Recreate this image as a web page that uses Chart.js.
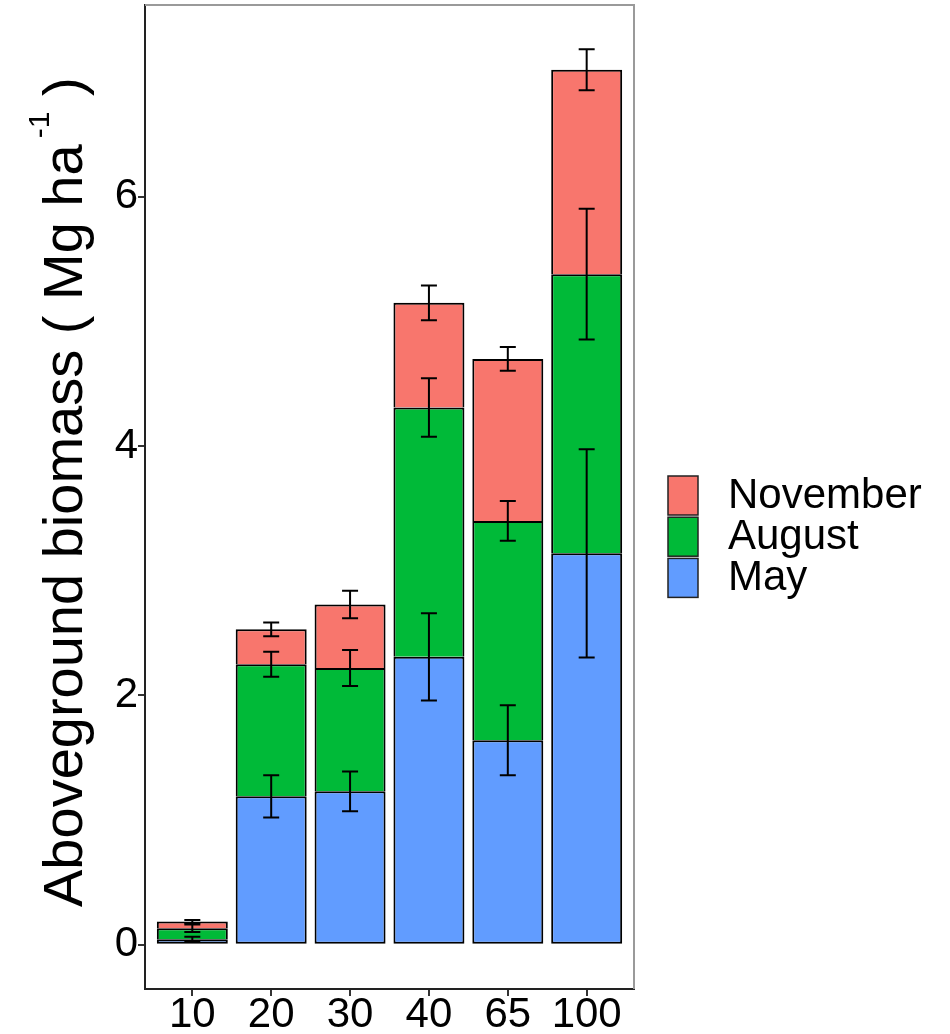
<!DOCTYPE html>
<html><head><meta charset="utf-8">
<script src="https://cdn.jsdelivr.net/npm/chart.js@4/dist/chart.umd.min.js"></script>
<style>html,body{margin:0;padding:0;background:#fff}#wrap{width:950px;height:1034px;position:relative}</style>
</head><body><div id="wrap"><canvas id="c" width="950" height="1034"></canvas></div>
<script>
const categories = ['10','20','30','40','65','100'];
const seriesNames = ['May','August','November'];
const seriesColors = ['#619CFF','#00BA38','#F8766D'];
const may = [0.043,1.19,1.23,2.31,1.64,3.14];
const august = [0.088,1.06,0.99,2.00,1.76,2.24];
const november = [0.054,0.28,0.51,0.84,1.30,1.64];
const maySE = [0.02,0.17,0.16,0.35,0.28,0.835];
const augustSE = [0.03,0.10,0.145,0.235,0.16,0.525];
const novemberSE = [0.012,0.055,0.11,0.14,0.095,0.165];
const yTicks = [0,2,4,6];
const yMin = -0.356, yMax = 7.54;
const xMin = -0.6, xMax = 5.6;
const yTitleMain = 'Aboveground biomass ( Mg ha';
const yTitleSup = '-1';
const yTitleEnd = ' )';

const FONT = "'Liberation Sans', Arial, sans-serif";
const seriesValues = [may, august, november];
const seriesSE = [maySE, augustSE, novemberSE];

const datasets = seriesNames.map((name, s) => ({
  label: name,
  data: seriesValues[s].map((v, i) => ({x: i, y: v})),
  backgroundColor: seriesColors[s],
  borderColor: '#000',
  borderWidth: s === 0 ? {top:2,left:2,right:2,bottom:2} : {top:2,left:2,right:2,bottom:0},
  borderSkipped: false,
  barPercentage: 0.9,
  categoryPercentage: 1.0
}));

const errorBars = {
  id: 'errorBars',
  afterDatasetsDraw(chart) {
    const {ctx, scales: {x, y}} = chart;
    ctx.save();
    ctx.strokeStyle = '#000';
    ctx.lineWidth = 2;
    categories.forEach((c, i) => {
      let cum = 0;
      seriesValues.forEach((vals, s) => {
        cum += vals[i];
        const se = seriesSE[s][i];
        const px = x.getPixelForValue(i);
        const y1 = y.getPixelForValue(cum + se), y2 = y.getPixelForValue(cum - se);
        ctx.beginPath();
        ctx.moveTo(px, y1); ctx.lineTo(px, y2);
        ctx.moveTo(px - 8, y1); ctx.lineTo(px + 8, y1);
        ctx.moveTo(px - 8, y2); ctx.lineTo(px + 8, y2);
        ctx.stroke();
      });
    });
    ctx.restore();
  }
};

const frame = {
  id: 'frame',
  afterDraw(chart) {
    const {ctx, chartArea: a} = chart;
    ctx.save();
    ctx.strokeStyle = '#9a9a9a';
    ctx.lineWidth = 2;
    ctx.beginPath();
    ctx.moveTo(a.left, a.top); ctx.lineTo(a.right, a.top); ctx.lineTo(a.right, a.bottom);
    ctx.stroke();
    // y axis title with superscript
    ctx.fillStyle = '#000';
    ctx.translate(81.5, 907);
    ctx.rotate(-Math.PI / 2);
    ctx.textBaseline = 'alphabetic';
    ctx.textAlign = 'left';
    ctx.font = '56px ' + FONT;
    ctx.fillText(yTitleMain, 0, 0);
    let w = ctx.measureText(yTitleMain).width + 6;
    ctx.font = '30px ' + FONT;
    ctx.fillText(yTitleSup, w, -33);
    w += ctx.measureText(yTitleSup).width;
    ctx.font = '56px ' + FONT;
    ctx.fillText(yTitleEnd, w, 0);
    ctx.restore();
    // legend
    ctx.save();
    const keys = chart.data.datasets.slice().reverse();
    ctx.font = '42px ' + FONT;
    ctx.textBaseline = 'middle';
    ctx.textAlign = 'left';
    keys.forEach((d, k) => {
      const top = 476 + k * 41.2;
      ctx.fillStyle = d.backgroundColor;
      ctx.fillRect(668, top, 30, 39);
      ctx.strokeStyle = '#222';
      ctx.lineWidth = 1.5;
      ctx.strokeRect(668, top, 30, 39);
      ctx.fillStyle = '#000';
      ctx.fillText(d.label, 728, top + 20);
    });
    ctx.restore();
  }
};

new Chart(document.getElementById('c'), {
  type: 'bar',
  data: {datasets},
  options: {
    responsive: false,
    animation: false,
    layout: {padding: {left: 0, right: 316, top: 5, bottom: 0}},
    plugins: {legend: {display: false}, tooltip: {enabled: false}},
    scales: {
      x: {
        type: 'linear', min: xMin, max: xMax, stacked: true, offset: false,
        afterBuildTicks: s => { s.ticks = categories.map((c, i) => ({value: i})); },
        afterFit: s => { s.height = 45; s.paddingLeft = 0; s.paddingRight = 0; },
        ticks: {callback: v => categories[v], font: {family: FONT, size: 42, lineHeight: 1}, color: '#000', padding: -2, maxRotation: 0, autoSkip: false},
        grid: {display: true, offset: false, drawOnChartArea: false, drawTicks: true, tickLength: 7, color: '#333', lineWidth: 2},
        border: {display: true, color: '#222', width: 2}
      },
      y: {
        type: 'linear', min: yMin, max: yMax, stacked: true,
        afterBuildTicks: s => { s.ticks = yTicks.map(v => ({value: v})); },
        afterFit: s => { s.width = 145; s.paddingTop = 0; s.paddingBottom = 0; },
        ticks: {callback: v => String(v), font: {family: FONT, size: 42, lineHeight: 1}, color: '#000', padding: 0},
        grid: {display: true, offset: false, drawOnChartArea: false, drawTicks: true, tickLength: 7, color: '#333', lineWidth: 2},
        border: {display: true, color: '#222', width: 2}
      }
    }
  },
  plugins: [errorBars, frame]
});
</script></body></html>
